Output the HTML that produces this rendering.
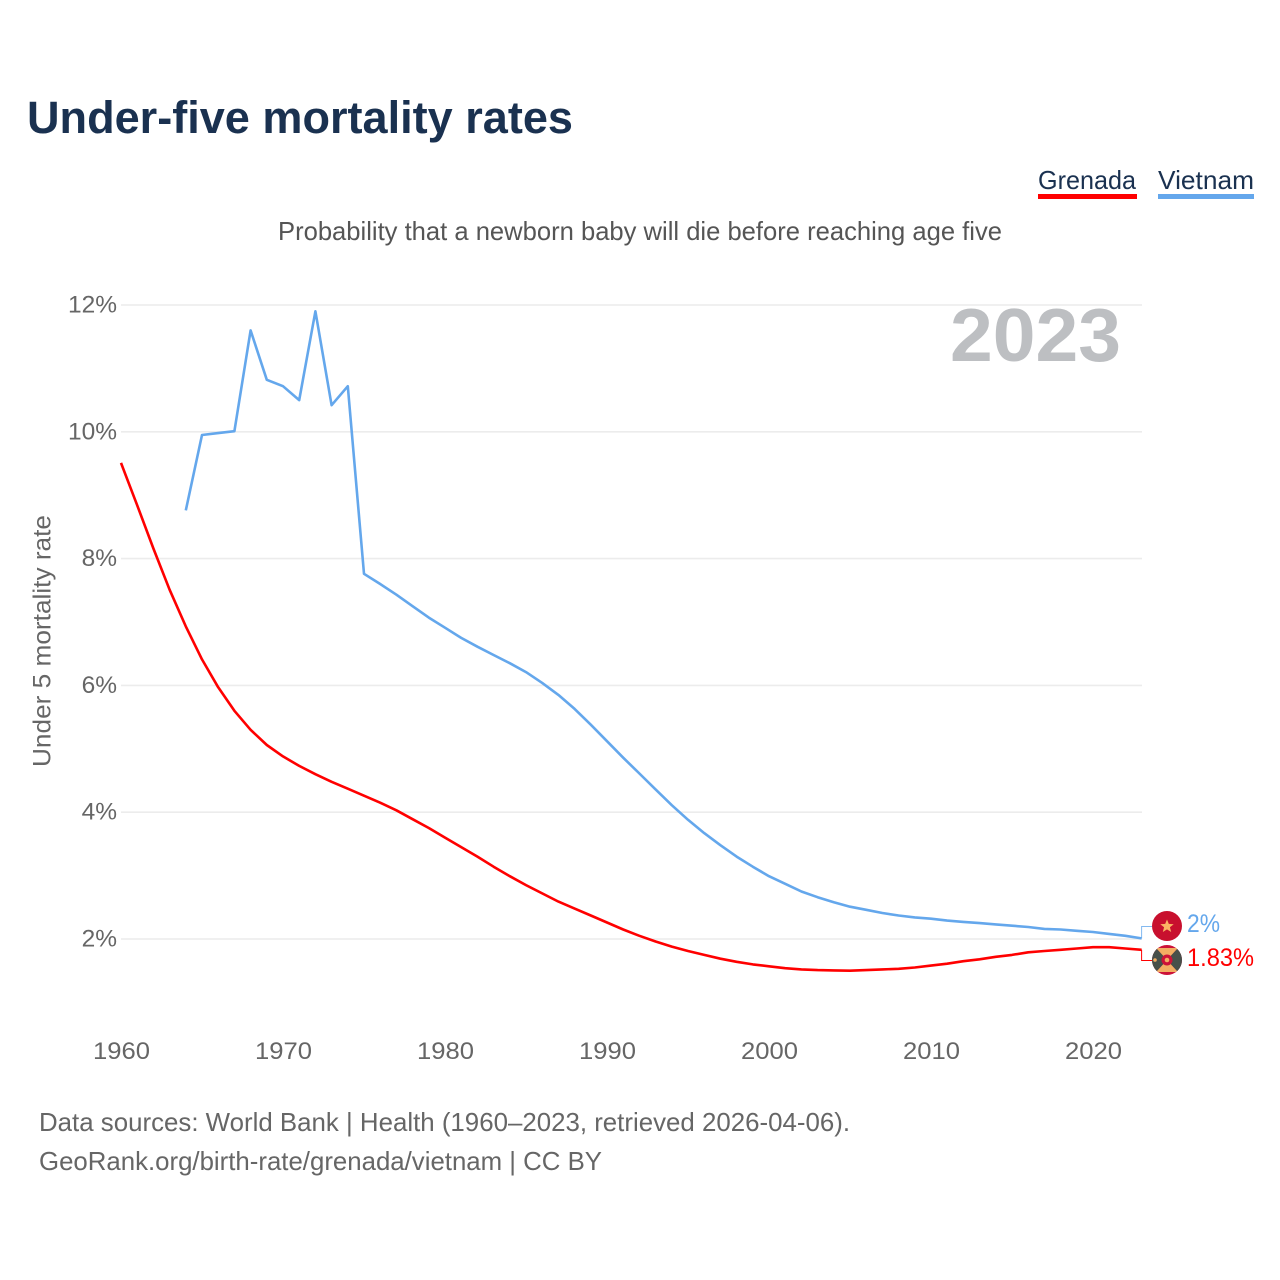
<!DOCTYPE html>
<html>
<head>
<meta charset="utf-8">
<style>
html,body{margin:0;padding:0;background:#fff;width:1280px;height:1280px;overflow:hidden}
svg{display:block}
text{font-family:"Liberation Sans",sans-serif}
</style>
</head>
<body>
<svg id="chart" width="1280" height="1280" viewBox="0 0 1280 1280" xmlns="http://www.w3.org/2000/svg">
<rect width="1280" height="1280" fill="#fff"/>
<text x="27" y="133" font-size="45" font-weight="bold" fill="#1a3150" textLength="546" lengthAdjust="spacingAndGlyphs">Under-five mortality rates</text>
<g>
<g>
<text x="1038" y="189" font-size="26" fill="#1a3150" textLength="98" lengthAdjust="spacingAndGlyphs">Grenada</text>
<rect x="1038" y="194" width="99" height="5" fill="#ff0000"/>
</g>
<g>
<text x="1158" y="189" font-size="26" fill="#1a3150" textLength="96" lengthAdjust="spacingAndGlyphs">Vietnam</text>
<rect x="1158" y="194" width="96" height="5" fill="#64a7ec"/>
</g>
</g>
<text x="278" y="240" font-size="26" fill="#555" textLength="724" lengthAdjust="spacingAndGlyphs">Probability that a newborn baby will die before reaching age five</text>
<text transform="translate(50.5,767) rotate(-90)" font-size="25" fill="#666" textLength="252" lengthAdjust="spacingAndGlyphs">Under 5 mortality rate</text>
<g id="grid"></g>
<g id="yticks"></g>
<g id="xticks"></g>
<text x="950" y="361" font-size="75" font-weight="bold" fill="#bdbfc2" textLength="171" lengthAdjust="spacingAndGlyphs">2023</text>
<g id="series"></g>
<g id="flag-vietnam">
<circle cx="1167" cy="926" r="15" fill="#c8102e"/>
<polygon points="1167,919.5 1168.8,923.9 1173.7,924.2 1169.9,927.2 1171.2,932 1167,929.4 1162.8,932 1164.1,927.2 1160.3,924.2 1165.2,923.9" fill="#fbb464"/>
</g>
<g id="flag-grenada">
<clipPath id="gclip"><circle cx="1167" cy="960" r="15"/></clipPath>
<g clip-path="url(#gclip)">
<rect x="1152" y="945" width="30" height="30" fill="#cc1238"/>
<polygon points="1156,948 1178,948 1167,960" fill="#f2ae63"/>
<polygon points="1156,972 1178,972 1167,960" fill="#f2ae63"/>
<polygon points="1152,948 1156,948 1167,960 1156,972 1152,972" fill="#47504a"/>
<polygon points="1182,948 1178,948 1167,960 1178,972 1182,972" fill="#47504a"/>
<circle cx="1167" cy="960" r="5.5" fill="#cc1238"/>
<circle cx="1167" cy="960" r="2.3" fill="#f2ae63"/>
<circle cx="1155" cy="960" r="1.8" fill="#f2ae63"/>
</g>
</g>
<text x="39" y="1131" font-size="26" fill="#666" textLength="811" lengthAdjust="spacingAndGlyphs">Data sources: World Bank | Health (1960–2023, retrieved 2026-04-06).</text>
<text x="39" y="1170" font-size="26" fill="#666" textLength="563" lengthAdjust="spacingAndGlyphs">GeoRank.org/birth-rate/grenada/vietnam | CC BY</text>
</svg>
<script>
const yTickValues = [2, 4, 6, 8, 10, 12];
const yTickLabels = ["2%", "4%", "6%", "8%", "10%", "12%"];
const xTickYears = [1960, 1970, 1980, 1990, 2000, 2010, 2020];
const grenadaStartYear = 1960;
const grenadaValues = [9.51,8.84,8.16,7.51,6.93,6.41,5.97,5.6,5.3,5.06,4.88,4.73,4.6,4.48,4.37,4.26,4.15,4.03,3.89,3.75,3.6,3.45,3.3,3.14,2.99,2.85,2.72,2.59,2.48,2.37,2.26,2.15,2.05,1.96,1.88,1.81,1.75,1.69,1.64,1.6,1.57,1.54,1.52,1.51,1.505,1.5,1.51,1.52,1.53,1.55,1.58,1.61,1.65,1.68,1.72,1.75,1.79,1.81,1.83,1.85,1.87,1.87,1.85,1.83];
const vietnamStartYear = 1964;
const vietnamValues = [8.76,9.95,9.98,10.01,11.6,10.82,10.72,10.5,11.9,10.42,10.72,7.76,7.6,7.43,7.25,7.07,6.91,6.75,6.61,6.48,6.35,6.21,6.04,5.85,5.63,5.38,5.12,4.86,4.61,4.36,4.11,3.88,3.67,3.48,3.3,3.14,2.99,2.87,2.75,2.66,2.58,2.51,2.46,2.41,2.37,2.34,2.32,2.29,2.27,2.25,2.23,2.21,2.19,2.16,2.15,2.13,2.11,2.08,2.05,2.01];
const grenadaLabel = "1.83%";
const vietnamLabel = "2%";

const NS = "http://www.w3.org/2000/svg";
function xScale(year) { return 121 + (year - 1960) * 16.2; }
function yScale(v) { return 939 - (v - 2) * 63.4; }
function make(tag, attrs, parent, text) {
  const el = document.createElementNS(NS, tag);
  for (const k in attrs) el.setAttribute(k, attrs[k]);
  if (text !== undefined) el.textContent = text;
  parent.appendChild(el);
  return el;
}
const gridG = document.getElementById("grid");
const yG = document.getElementById("yticks");
const xG = document.getElementById("xticks");
const seriesG = document.getElementById("series");

yTickValues.forEach(function (v, i) {
  const line = make("line", { x1: 121, x2: 1142, y1: yScale(v), y2: yScale(v), stroke: "#ececec", "stroke-width": 1.6 }, gridG);
  
  
  const label = make("text", { x: 117, y: yScale(v) + 7.5, "text-anchor": "end", "font-size": 24.5, fill: "#666" }, yG, yTickLabels[i]);
  
  
});
xTickYears.forEach(function (yr) {
  const label = make("text", { x: xScale(yr) - 28, y: 1059, "font-size": 24.5, fill: "#666", textLength: 57, lengthAdjust: "spacingAndGlyphs" }, xG, String(yr));
  
  
});
function linePoints(start, values) {
  return values.map(function (v, i) { return xScale(start + i).toFixed(1) + "," + yScale(v).toFixed(1); }).join(" ");
}
const vLine = make("polyline", { points: linePoints(vietnamStartYear, vietnamValues), fill: "none", stroke: "#64a7ec", "stroke-width": 2.6, "stroke-linejoin": "round" }, seriesG);


const gLine = make("polyline", { points: linePoints(grenadaStartYear, grenadaValues), fill: "none", stroke: "#ff0000", "stroke-width": 2.6, "stroke-linejoin": "round" }, seriesG);



const endX = xScale(2023);
const vEndY = yScale(vietnamValues[vietnamValues.length - 1]);
const gEndY = yScale(grenadaValues[grenadaValues.length - 1]);
const vConn = make("polyline", { points: endX + "," + vEndY + " " + endX + ",926.5 1152,926.5", fill: "none", stroke: "#64a7ec", "stroke-width": 1, opacity: 0.8 }, seriesG);


const gConn = make("polyline", { points: endX + "," + gEndY + " " + endX + ",960.5 1152,960.5", fill: "none", stroke: "#ff0000", "stroke-width": 1 }, seriesG);


const vVal = make("text", { x: 1187, y: 932, "font-size": 25, fill: "#64a7ec", textLength: 33, lengthAdjust: "spacingAndGlyphs" }, seriesG, vietnamLabel);


const gVal = make("text", { x: 1187, y: 966, "font-size": 25, fill: "#ff0000", textLength: 67, lengthAdjust: "spacingAndGlyphs" }, seriesG, grenadaLabel);


</script>
</body>
</html>
